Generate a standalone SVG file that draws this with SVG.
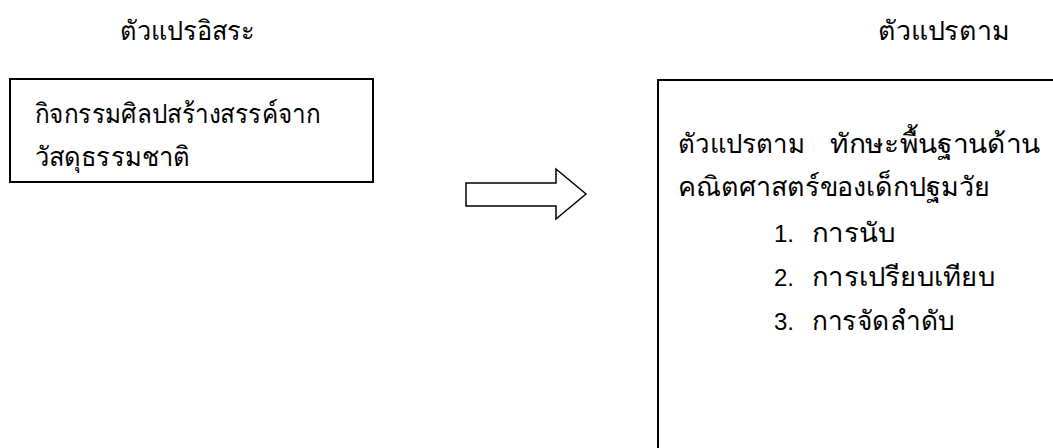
<svg xmlns="http://www.w3.org/2000/svg" width="1053" height="448" viewBox="0 0 1053 448">
<style>
.t{font-family:"Liberation Sans","Noto Sans",sans-serif;font-size:27px;fill:#000}
.n{font-family:"Liberation Sans",Arial,sans-serif;font-size:24px;fill:#000}
.box{fill:#fff;stroke:#000;stroke-width:2}
</style>
<rect width="1053" height="448" fill="#fff"/>
<text class="t" x="120" y="40" textLength="135" lengthAdjust="spacingAndGlyphs">ตัวแปรอิสระ</text>
<text class="t" x="878" y="40" textLength="132" lengthAdjust="spacingAndGlyphs">ตัวแปรตาม</text>
<g id="independent">
<rect class="box" x="10" y="79" width="363" height="103"/>
<text class="t" x="35" y="123" textLength="285" lengthAdjust="spacingAndGlyphs">กิจกรรมศิลปสร้างสรรค์จาก</text>
<text class="t" x="35" y="166" textLength="155" lengthAdjust="spacingAndGlyphs">วัสดุธรรมชาติ</text>
</g>
<g id="dependent">
<rect class="box" x="658" y="80" width="420" height="400"/>
<text class="t" x="678" y="153" textLength="127" lengthAdjust="spacingAndGlyphs">ตัวแปรตาม</text>
<text class="t" x="830" y="153" textLength="210" lengthAdjust="spacingAndGlyphs">ทักษะพื้นฐานด้าน</text>
<text class="t" x="678" y="196" textLength="312" lengthAdjust="spacingAndGlyphs">คณิตศาสตร์ของเด็กปฐมวัย</text>
<text class="n" x="774" y="242">1.</text>
<text class="t" x="812" y="242" textLength="83" lengthAdjust="spacingAndGlyphs">การนับ</text>
<text class="n" x="774" y="286">2.</text>
<text class="t" x="812" y="286" textLength="183" lengthAdjust="spacingAndGlyphs">การเปรียบเทียบ</text>
<text class="n" x="774" y="330">3.</text>
<text class="t" x="812" y="330" textLength="143" lengthAdjust="spacingAndGlyphs">การจัดลำดับ</text>
</g>
<g id="connectors">
<polygon points="466,183 556,183 556,169 586,194 556,219 556,206 466,206" fill="#fff" stroke="#000" stroke-width="1.5"/>
</g>
</svg>
